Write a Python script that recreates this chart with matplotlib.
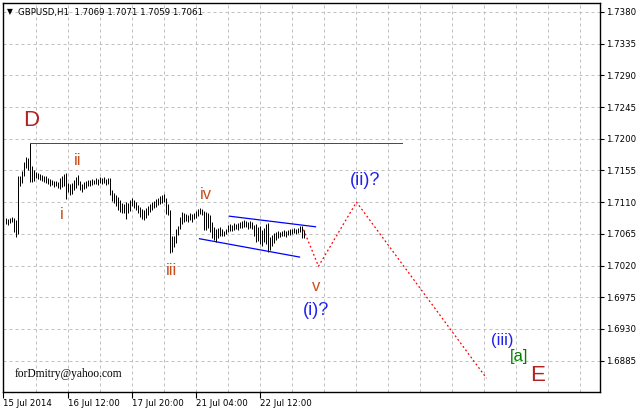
import matplotlib
matplotlib.use('Agg')
import matplotlib.pyplot as plt

# ---------------- data ----------------
highs = [1.7087, 1.7086, 1.7087, 1.7089, 1.7087, 1.7085, 1.7147, 1.7147, 1.7154, 1.7167,
         1.7174, 1.7173, 1.7194, 1.7161, 1.7156, 1.7153, 1.7151, 1.7150, 1.7149, 1.7147,
         1.7147, 1.7144, 1.7143, 1.7141, 1.7140, 1.7140, 1.7139, 1.7144, 1.7147, 1.7150,
         1.7151, 1.7137, 1.7136, 1.7137, 1.7141, 1.7146, 1.7149, 1.7140, 1.7136, 1.7139,
         1.7140, 1.7141, 1.7141, 1.7143, 1.7141, 1.7144, 1.7143, 1.7146, 1.7144, 1.7146,
         1.7143, 1.7144, 1.7144, 1.7127, 1.7123, 1.7120, 1.7117, 1.7113, 1.7109, 1.7107,
         1.7110, 1.7109, 1.7113, 1.7116, 1.7113, 1.7110, 1.7106, 1.7103, 1.7100, 1.7099,
         1.7102, 1.7104, 1.7107, 1.7110, 1.7112, 1.7114, 1.7116, 1.7119, 1.7120, 1.7122,
         1.7116, 1.7107, 1.7099, 1.7062, 1.7062, 1.7072, 1.7076, 1.7089, 1.7096, 1.7095,
         1.7093, 1.7092, 1.7095, 1.7093, 1.7095, 1.7097, 1.7100, 1.7102, 1.7100, 1.7097,
         1.7096, 1.7095, 1.7092, 1.7082, 1.7075, 1.7072, 1.7073, 1.7075, 1.7072, 1.7069,
         1.7072, 1.7078, 1.7079, 1.7078, 1.7080, 1.7079, 1.7080, 1.7082, 1.7083, 1.7085,
         1.7083, 1.7082, 1.7083, 1.7082, 1.7078, 1.7079, 1.7075, 1.7076, 1.7070, 1.7073,
         1.7079, 1.7080, 1.7060, 1.7063, 1.7066, 1.7068, 1.7069, 1.7068, 1.7069, 1.7070,
         1.7069, 1.7070, 1.7072, 1.7072, 1.7073, 1.7072, 1.7073, 1.7076, 1.7076, 1.7071]
lows = [1.7079, 1.7078, 1.7080, 1.7082, 1.7068, 1.7060, 1.7065, 1.7133, 1.7137, 1.7147,
        1.7158, 1.7156, 1.7139, 1.7139, 1.7140, 1.7144, 1.7143, 1.7141, 1.7140, 1.7139,
        1.7137, 1.7136, 1.7133, 1.7134, 1.7131, 1.7133, 1.7130, 1.7129, 1.7131, 1.7133,
        1.7114, 1.7124, 1.7120, 1.7122, 1.7127, 1.7130, 1.7134, 1.7127, 1.7124, 1.7129,
        1.7130, 1.7133, 1.7133, 1.7134, 1.7136, 1.7136, 1.7134, 1.7137, 1.7136, 1.7137,
        1.7134, 1.7136, 1.7120, 1.7112, 1.7109, 1.7104, 1.7099, 1.7096, 1.7095, 1.7095,
        1.7086, 1.7095, 1.7097, 1.7104, 1.7102, 1.7099, 1.7095, 1.7089, 1.7086, 1.7085,
        1.7087, 1.7092, 1.7096, 1.7099, 1.7102, 1.7103, 1.7106, 1.7107, 1.7109, 1.7110,
        1.7093, 1.7092, 1.7038, 1.7039, 1.7046, 1.7052, 1.7063, 1.7072, 1.7079, 1.7082,
        1.7083, 1.7082, 1.7085, 1.7082, 1.7086, 1.7087, 1.7090, 1.7093, 1.7092, 1.7070,
        1.7070, 1.7073, 1.7068, 1.7059, 1.7056, 1.7053, 1.7059, 1.7062, 1.7062, 1.7062,
        1.7065, 1.7068, 1.7069, 1.7069, 1.7070, 1.7072, 1.7070, 1.7073, 1.7073, 1.7075,
        1.7075, 1.7072, 1.7073, 1.7072, 1.7062, 1.7053, 1.7055, 1.7051, 1.7048, 1.7053,
        1.7051, 1.7039, 1.7042, 1.7048, 1.7052, 1.7056, 1.7059, 1.7060, 1.7062, 1.7062,
        1.7060, 1.7063, 1.7063, 1.7065, 1.7066, 1.7065, 1.7066, 1.7068, 1.7059, 1.7059]

price_ticks = [1.7380, 1.7335, 1.7290, 1.7245, 1.7200, 1.7155,
               1.7110, 1.7065, 1.7020, 1.6975, 1.6930, 1.6885]
time_labels = ["15 Jul 2014", "16 Jul 12:00", "17 Jul 20:00", "21 Jul 04:00", "22 Jul 12:00"]
time_label_bars = [0, 32, 64, 96, 128]

d_level = 1.7194
d_line_bars = [13, 199]
channel_upper_x = [113, 156]
channel_upper_p = [1.7090, 1.7075]
channel_lower_x = [98, 148]
channel_lower_p = [1.7058, 1.7032]
wave_x = [150, 157.5, 176.5, 241.5]
wave_p = [1.7071, 1.7019, 1.7110, 1.6860]

header = "GBPUSD,H1  1.7069 1.7071 1.7059 1.7061"

# ---------------- figure ----------------
W, H = 637, 408
fig = plt.figure(figsize=(W / 100, H / 100), dpi=100)
fig.patch.set_facecolor('white')
ax = fig.add_axes([3 / W, (H - 392) / H, 597 / W, 389 / H])
ax.set_xlim(-0.25, 298.25)
ax.set_ylim(1.68404, 1.73927)

px = 0.72  # one pixel in points

# grid
grid_kw = dict(color='#c0c0c0', lw=px, dashes=(3, 3), zorder=1)
for p in price_ticks:
    ax.axhline(p, **grid_kw)
for b in range(16, 298, 16):
    ax.axvline(b, **grid_kw)

# bars
xs = list(range(1, len(highs) + 1))
ax.vlines(xs, lows, highs, color='black', lw=px, zorder=3)

# D line
ax.plot(d_line_bars, [d_level, d_level], color='#ff0000', lw=px, zorder=4)

# channel
ax.plot(channel_upper_x, channel_upper_p, color='#0000ff', lw=0.9, zorder=4)
ax.plot(channel_lower_x, channel_lower_p, color='#0000ff', lw=0.9, zorder=4)

# projected waves
ax.plot(wave_x, wave_p, color='#ff0000', lw=0.9, dashes=(1.5, 2), zorder=4)

# labels
brown = '#b22222'
orange = '#c8501e'
blue = '#2020f0'
green = '#008000'
lab = dict(ha='center', va='center', family='Liberation Sans', zorder=5)
ax.text(14, 1.72252, 'D', color=brown, fontsize=16, **lab)
ax.text(29, 1.70931, 'i', color=orange, fontsize=12, **lab)
ax.text(37, 1.71684, 'ii', color=orange, fontsize=12, **lab)
ax.text(84, 1.70136, 'iii', color=orange, fontsize=12, **lab)
ax.text(101, 1.71201, 'iv', color=orange, fontsize=12, **lab)
ax.text(156.5, 1.69895, 'v', color=orange, fontsize=12, **lab)
ax.text(156.5, 1.69568, '(i)?', color=blue, fontsize=13, **lab)
ax.text(181, 1.71400, '(ii)?', color=blue, fontsize=13, **lab)
ax.text(249.5, 1.69142, '(iii)', color=blue, fontsize=12, **lab)
ax.text(258, 1.68901, '[a]', color=green, fontsize=12, **lab)
ax.text(267, 1.68645, 'E', color=brown, fontsize=16, **lab)

# header & signature
fig.text(7 / W, 1 - 12 / H, '\u25bc', fontsize=5.5, va='center', ha='left', family='DejaVu Sans')
fig.text(18 / W, 1 - 12 / H, header, fontsize=6.2, va='center', ha='left', family='DejaVu Sans')
ax.text(5.5, 1.6866, 'forDmitry@yahoo.com', fontsize=8.3, family='Liberation Serif',
        va='center', ha='left', zorder=5)

# axes styling
for s in ax.spines.values():
    s.set_color('black')
    s.set_linewidth(1.0)
ax.yaxis.tick_right()
ax.set_yticks(price_ticks)
ax.set_yticklabels([f"{p:.4f}" for p in price_ticks], fontsize=6.2, family='DejaVu Sans')
ax.tick_params(axis='y', direction='out', length=3, width=0.8, pad=1.5)
ax.set_xticks(time_label_bars)
ax.set_xticklabels(time_labels, fontsize=6.2, family='DejaVu Sans', ha='left')
ax.tick_params(axis='x', direction='out', length=4, width=0.8, pad=1)

fig.savefig('out.png', dpi=100, facecolor='white')
